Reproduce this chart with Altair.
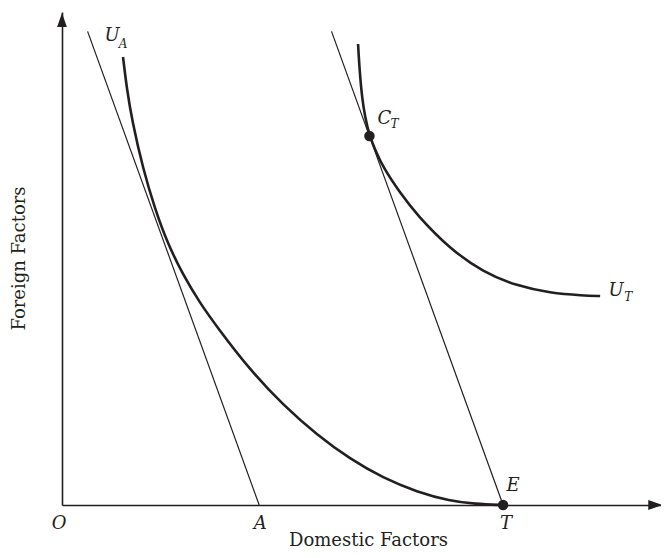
import altair as alt
import pandas as pd

# ---- data (in abstract factor units) ----
# budget line through A (autarky price line) and through T (trade price line)
a_line_x = [0.58, 4.47]
a_line_y = [10.74, 0.0]
t_line_x = [6.11, 10.0]
t_line_y = [10.74, 0.0]

# indifference curve U_A
ua_x = [1.383, 1.474, 1.587, 1.837, 2.109, 2.381, 2.744, 3.129, 3.515, 4.263, 5.011,
        5.782, 6.531, 7.279, 8.050, 8.798, 9.365, 10.0]
ua_y = [10.159, 9.410, 8.730, 7.619, 6.712, 5.964, 5.215, 4.580, 4.036, 3.061, 2.268,
        1.587, 1.043, 0.612, 0.295, 0.091, 0.023, 0.0]

# indifference curve U_T
ut_x = [6.712, 6.746, 6.803, 6.871, 6.970, 7.143, 7.279, 7.664, 8.050, 8.798, 9.546,
        10.317, 11.066, 11.814, 12.200]
ut_y = [10.454, 9.864, 9.229, 8.798, 8.367, 7.959, 7.664, 7.075, 6.576, 5.805, 5.283,
        4.966, 4.807, 4.751, 4.739]

# highlighted points: C_T and E
pt_names = ["C_T", "E"]
pt_x = [6.97, 10.0]
pt_y = [8.367, 0.0]

X_MAX = 13.58
Y_MAX = 11.18

INK = "#231f20"
SERIF = "DejaVu Serif"

xs = alt.Scale(domain=[0, X_MAX], nice=False, zero=False)
ys = alt.Scale(domain=[0, Y_MAX], nice=False, zero=False)

x_axis = alt.Axis(
    domain=True, ticks=False, labels=False, grid=False,
    domainColor=INK, domainWidth=1.6,
    title="Domestic Factors", titleFont=SERIF, titleFontSize=18,
    titleFontWeight="normal", titleColor=INK,
    titleX=306, titleY=40, titleAlign="center", titleBaseline="alphabetic",
)
y_axis = alt.Axis(
    domain=True, ticks=False, labels=False, grid=False,
    domainColor=INK, domainWidth=1.6,
    title="Foreign Factors", titleFont=SERIF, titleFontSize=18,
    titleFontWeight="normal", titleColor=INK,
    titleAngle=270, titleX=-43, titleY=246, titleAlign="center", titleBaseline="middle",
)


def enc(chart):
    return chart.encode(
        x=alt.X("x:Q", scale=xs, axis=x_axis),
        y=alt.Y("y:Q", scale=ys, axis=y_axis),
    )


def df(xv, yv):
    return pd.DataFrame({"x": xv, "y": yv})


layers = []
layers.append(enc(alt.Chart(df(a_line_x, a_line_y)).mark_line(color=INK, strokeWidth=1.2)))
layers.append(enc(alt.Chart(df(t_line_x, t_line_y)).mark_line(color=INK, strokeWidth=1.2)))
layers.append(enc(alt.Chart(df(ua_x, ua_y)).mark_line(color=INK, strokeWidth=2.6, interpolate="basis")))
layers.append(enc(alt.Chart(df(ut_x, ut_y)).mark_line(color=INK, strokeWidth=2.6, interpolate="basis")))
layers.append(enc(alt.Chart(pd.DataFrame({"x": pt_x, "y": pt_y, "name": pt_names})).mark_circle(
    color=INK, size=110, opacity=1)))

# axis arrowheads
layers.append(enc(alt.Chart(df([0.0], [11.0])).mark_point(
    shape="M0,-1L0.7,1L-0.7,1Z", filled=True, color=INK, size=196, opacity=1, strokeWidth=0)))
layers.append(enc(alt.Chart(df([13.45], [0.0])).mark_point(
    shape="M1,0L-1,0.7L-1,-0.7Z", filled=True, color=INK, size=196, opacity=1, strokeWidth=0)))

# labels: (text, anchor x, anchor y, dx, dy, font size)
labels = [
    ("O", 0.0, 0.0, -3, 19, 18),
    ("A", a_line_x[1], 0.0, 1, 19, 18),
    ("T", t_line_x[1], 0.0, 3, 19, 18),
    ("E", pt_x[1], pt_y[1], 10, -19, 18),
    ("U", ua_x[0], ua_y[0], -11, -21, 18),
    ("A", ua_x[0], ua_y[0], 0, -13, 12),
    ("C", pt_x[0], pt_y[0], 15, -17, 18),
    ("T", pt_x[0], pt_y[0], 25, -12, 12),
    ("U", ut_x[-1], ut_y[-1], 16, -5, 18),
    ("T", ut_x[-1], ut_y[-1], 28, 1, 12),
]
for txt, lx, ly, ddx, ddy, fs in labels:
    layers.append(enc(alt.Chart(pd.DataFrame({"x": [lx], "y": [ly], "t": [txt]})).mark_text(
        font=SERIF, fontStyle="italic", fontSize=fs, color=INK,
        align="center", baseline="middle", dx=ddx, dy=ddy,
    )).encode(text="t:N"))

chart = alt.layer(*layers).properties(
    width=599, height=493,
    background="white",
    autosize=alt.AutoSizeParams(type="none"),
    padding={"left": 54, "top": 4, "right": 0, "bottom": 45},
).configure_view(stroke=None)

chart.save("out.html", embed_options={"renderer": "svg", "actions": False})
